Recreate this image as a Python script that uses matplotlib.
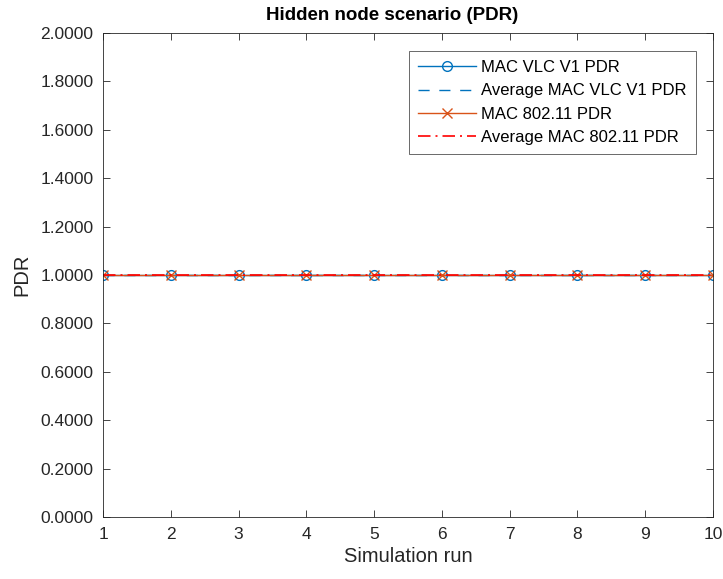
import matplotlib
matplotlib.use("Agg")
import matplotlib.pyplot as plt
import numpy as np

runs = [1, 2, 3, 4, 5, 6, 7, 8, 9, 10]
vlc_pdr = [1.0, 1.0, 1.0, 1.0, 1.0, 1.0, 1.0, 1.0, 1.0, 1.0]
wifi_pdr = [1.0, 1.0, 1.0, 1.0, 1.0, 1.0, 1.0, 1.0, 1.0, 1.0]
avg_vlc = float(np.mean(vlc_pdr))
avg_wifi = float(np.mean(wifi_pdr))

plt.rcParams['font.family'] = ['Liberation Sans', 'DejaVu Sans']

fig = plt.figure(figsize=(7.23, 5.79), dpi=100)
ax = fig.add_axes([103/723, 62/579, 610/723, 484/579])

blue = '#0072BD'
orange = '#D95319'
ax.plot(runs, vlc_pdr, '-o', color=blue, lw=1.0, ms=7, mfc='none', mew=1.0, label='MAC VLC V1 PDR')
ax.plot(runs, [avg_vlc]*len(runs), '--', color=blue, lw=1.0, dashes=(8, 7), label='Average MAC VLC V1 PDR')
ax.plot(runs, wifi_pdr, '-x', color=orange, lw=1.0, ms=7, mew=1.0, label='MAC 802.11 PDR')
ax.plot(runs, [avg_wifi]*len(runs), '-.', color='red', lw=1.2, dashes=(7.5, 3, 1.2, 3), label='Average MAC 802.11 PDR')

ax.set_xlim(1, 10)
ax.set_ylim(0, 2)
ax.set_xticks(runs)
yt = np.arange(0, 2.01, 0.2)
ax.set_yticks(yt)
ax.set_yticklabels([f'{v:.4f}' for v in yt])
ax.tick_params(direction='in', top=True, right=True, labelsize=12.5, length=5, width=0.6,
               colors='#262626', pad=7)
for s in ax.spines.values():
    s.set_linewidth(0.6)
    s.set_color('#262626')

ax.set_xlabel('Simulation run', fontsize=14.5, color='#262626', labelpad=4)
ax.set_ylabel('PDR', fontsize=14.5, color='#262626', labelpad=6)
ax.set_title('Hidden node scenario (PDR)', fontsize=13.5, fontweight='bold', color='black',
             pad=9, x=0.4746)

leg = ax.legend(loc='upper right', bbox_to_anchor=(696/723, 1-51/579), bbox_transform=fig.transFigure,
                borderaxespad=0, fontsize=12, frameon=True, fancybox=False,
                edgecolor='#262626', handlelength=3.5, borderpad=0.55, labelspacing=0.5, handletextpad=0.3)
leg.get_frame().set_linewidth(0.6)

fig.savefig('out.png', dpi=100)
